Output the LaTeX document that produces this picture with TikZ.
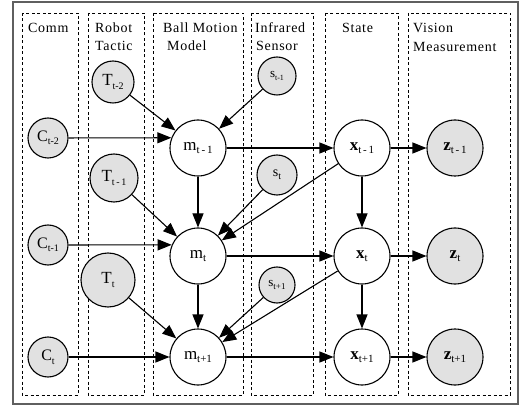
\documentclass[tikz,border=0pt]{standalone}
\usepackage{fontspec}
\setmainfont{Liberation Serif}
\usetikzlibrary{arrows.meta}
\definecolor{obsgray}{RGB}{225,225,225}
\definecolor{framegray}{RGB}{95,95,95}
\newcommand{\glab}[4]{{\fontsize{#1}{#1}\selectfont #3}\raisebox{-3.5pt}{\fontsize{#2}{#2}\selectfont #4}}
\tikzset{
  obs/.style={circle, draw, line width=1.1pt, fill=obsgray, inner sep=0pt},
  hid/.style={circle, draw, line width=1.1pt, fill=white, inner sep=0pt, minimum size=56pt},
  lane/.style={draw, dash pattern=on 3pt off 2.5pt, line width=0.9pt},
  hdr/.style={anchor=base west, inner sep=0pt, font=\fontsize{14}{16}\selectfont\addfontfeatures{LetterSpace=5}},
  edge/.style={-{Triangle[length=14pt,width=11pt]}, line width=1.1pt},
}
\begin{document}
\begin{tikzpicture}[x=1pt, y=-1pt]
\useasboundingbox (0,0) rectangle (521,411);
% outer frame
\draw[framegray, line width=1.6pt] (13,2) rectangle (518,404);
% lanes
\draw[lane] (22,13) rectangle (78,395);
\draw[lane] (88,13) rectangle (144,395);
\draw[lane] (153,13) rectangle (243,395);
\draw[lane] (251,13) rectangle (313,395);
\draw[lane] (325,13) rectangle (398,395);
\draw[lane] (408,13) rectangle (510,395);
% headers
\node[hdr] (hComm) at (28,33) {Comm};
\node[hdr] (hRobot) at (95,33) {Robot};
\node[hdr] (hTactic) at (95,51) {Tactic};
\node[hdr] (hBall) at (163,33) {Ball Motion};
\node[hdr] (hModel) at (167,51) {Model};
\node[hdr] (hInfra) at (255,33) {Infrared};
\node[hdr] (hSensor) at (256,51) {Sensor};
\node[hdr] (hState) at (342,33) {State};
\node[hdr] (hVision) at (413,33) {Vision};
\node[hdr] (hMeas) at (413,52) {Measurement};
% Comm nodes
\node[obs, minimum size=40pt] (C2) at (48,138) {\glab{16}{10}{C}{t-2}};
\node[obs, minimum size=40pt] (C1) at (48,245) {\glab{16}{10}{C}{t-1}};
\node[obs, minimum size=40pt] (C0) at (48,357) {\glab{16}{10}{C}{t}};
% Tactic nodes
\node[obs, minimum size=42pt] (T2) at (113,82) {\glab{17}{10}{T}{t-2}};
\node[obs, minimum size=48pt] (T1) at (114,178) {\glab{17}{10}{T}{t\,-\,1}};
\node[obs, minimum size=54pt] (T0) at (108,280) {\glab{17}{10}{T}{t}};
% Ball motion nodes
\node[hid] (m1) at (198,148) {\glab{17}{11}{m}{t\,-\,1}};
\node[hid] (m2) at (198,256) {\glab{17}{11}{m}{t}};
\node[hid] (m3) at (198,357) {\glab{17}{11}{m}{t+1}};
% Infrared nodes
\node[obs, minimum size=38pt] (s1) at (277,76) {\glab{13}{8}{s}{t-1}};
\node[obs, minimum size=40pt] (s2) at (277,175) {\glab{14}{10}{s}{t}};
\node[obs, minimum size=36pt] (s3) at (277,285) {\glab{13}{9}{s}{t+1}};
% State nodes
\node[hid] (x1) at (362,148) {\glab{17}{11}{\textbf{x}}{t\,-\,1}};
\node[hid] (x2) at (362,256) {\glab{17}{11}{\textbf{x}}{t}};
\node[hid] (x3) at (362,357) {\glab{17}{11}{\textbf{x}}{t+1}};
% Vision nodes
\node[obs, minimum size=56pt] (z1) at (455,148) {\glab{17}{11}{\textbf{z}}{t\,-\,1}};
\node[obs, minimum size=56pt] (z2) at (455,256) {\glab{17}{11}{\textbf{z}}{t}};
\node[obs, minimum size=56pt] (z3) at (455,357) {\glab{17}{11}{\textbf{z}}{t+1}};
% edges into m
\draw[edge] (C2) -- (m1.159);
\draw[edge] (T2) -- (m1);
\draw[edge] (s1) -- (m1);
\draw[edge] (C1) -- (m2.157);
\draw[edge] (T1) -- (m2);
\draw[edge] (m1) -- (m2);
\draw[edge] (s2) -- (m2);
\draw[edge] (x1) -- (m2);
\draw[edge] (C0) -- (m3);
\draw[edge] (T0) -- (m3);
\draw[edge] (m2) -- (m3);
\draw[edge] (s3) -- (m3);
\draw[edge] (x2) -- (m3);
% m to x
\draw[edge] (m1) -- (x1);
\draw[edge] (m2) -- (x2);
\draw[edge] (m3) -- (x3);
% x chain
\draw[edge] (x1) -- (x2);
\draw[edge] (x2) -- (x3);
% x to z
\draw[edge] (x1) -- (z1);
\draw[edge] (x2) -- (z2);
\draw[edge] (x3) -- (z3);
\end{tikzpicture}
\end{document}
